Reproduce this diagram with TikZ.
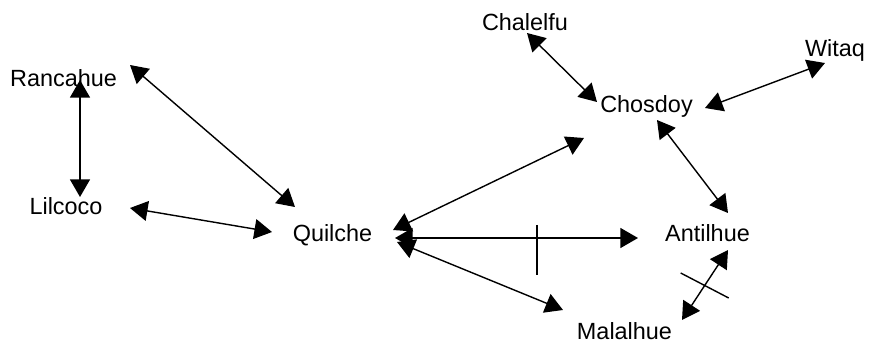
\documentclass[tikz,border=0pt]{standalone}
\usepackage{fontspec}
\setmainfont{Liberation Sans}
\usetikzlibrary{arrows.meta,calc}
\begin{document}
\begin{tikzpicture}[x=0.03cm,y=-0.03cm,
  place/.style={anchor=base,inner sep=0pt,font=\fontsize{20}{24}\selectfont},
  link/.style={line width=1.2pt,{Triangle[length=15pt,width=17pt]}-{Triangle[length=15pt,width=17pt]}},
  tick/.style={line width=1.2pt}]
\useasboundingbox (0,0) rectangle (869,343);
\node[place] (ran) at (63.5,87) {Rancahue};
\node[place] (lil) at (66,215) {Lilcoco};
\node[place] (qui) at (332.5,241) {Quilche};
\node[place] (cha) at (525,31) {Chalelfu};
\node[place] (wit) at (835,57) {Witaq};
\node[place] (cho) at (646.5,113) {Chosdoy};
\node[place] (ant) at (707.5,241) {Antilhue};
\node[place] (mal) at (624.5,339) {Malalhue};

\draw[link] ($(ran.base)+(16.5,-7)$) -- ($(lil.base)+(14,-18)$);
\draw[link] ($(ran.base)+(66.5,-22)$) -- ($(qui.base)+(-37.5,-34)$);
\draw[link] ($(lil.base)+(64,-7)$) -- ($(qui.base)+(-60.5,-9)$);
\draw[link] ($(cha.base)+(2,2)$) -- ($(cho.base)+(-49.5,-11)$);
\draw[link] ($(wit.base)+(-10,6)$) -- ($(cho.base)+(58.5,-5)$);
\draw[link] ($(cho.base)+(10.5,7)$) -- ($(ant.base)+(20.5,-28)$);
\draw[link] ($(qui.base)+(60.5,-11)$) -- ($(cho.base)+(-62.5,25)$);
\draw[link] ($(qui.base)+(62.5,-3)$) -- coordinate[pos=0.584] (t1) ($(ant.base)+(-69.5,-3)$);
\draw[link] ($(qui.base)+(64.5,1)$) -- ($(mal.base)+(-61.5,-29)$);
\draw[link] ($(ant.base)+(20.5,9)$) -- coordinate[pos=0.507] (t2) ($(mal.base)+(57.5,-19)$);
\draw[tick] ($(t1)+(0,-13)$) -- ++(0,50);
\draw[tick] ($(t2)+(-24,-12.5)$) -- ++(48,25);
\end{tikzpicture}
\end{document}
